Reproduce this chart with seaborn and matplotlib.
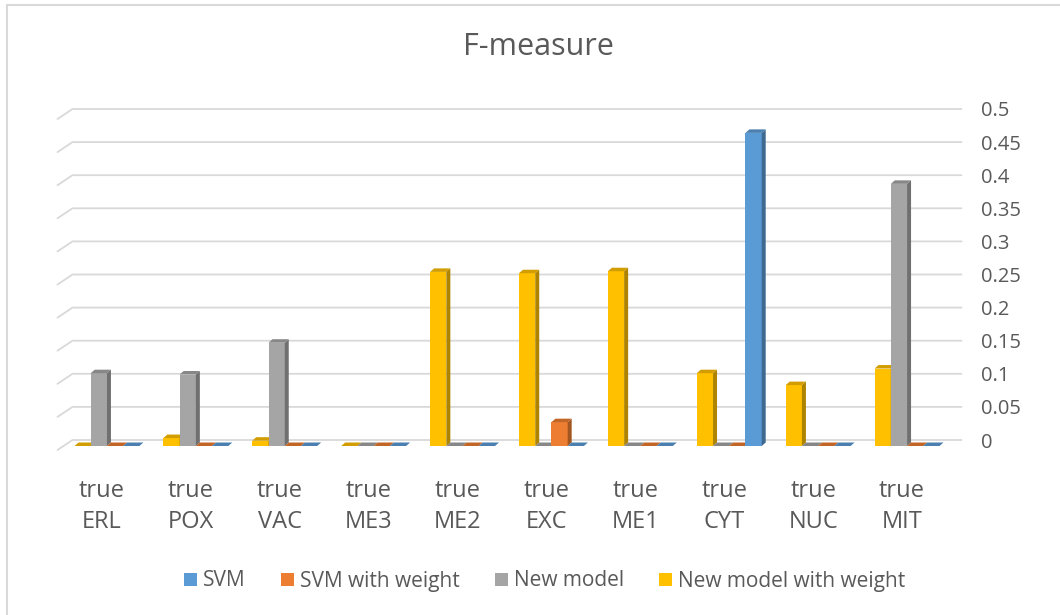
import numpy as np
import pandas as pd
import seaborn as sns
import matplotlib
matplotlib.use("Agg")
import matplotlib.pyplot as plt
from matplotlib.patches import Patch, Polygon, Rectangle
from matplotlib.lines import Line2D
from matplotlib.transforms import ScaledTranslation, IdentityTransform
from matplotlib.colors import to_rgb

# ---- data -------------------------------------------------------------
categories = ["true\nERL", "true\nPOX", "true\nVAC", "true\nME3", "true\nME2",
              "true\nEXC", "true\nME1", "true\nCYT", "true\nNUC", "true\nMIT"]
series_names = ["SVM", "SVM with weight", "New model", "New model with weight"]
svm = [0, 0, 0, 0, 0, 0, 0, 0.473, 0, 0]
svm_weight = [0, 0, 0, 0, 0, 0.036, 0, 0, 0, 0]
new_model = [0.110, 0.108, 0.156, 0, 0, 0, 0, 0, 0, 0.396]
new_model_weight = [0, 0.012, 0.008, 0, 0.263, 0.261, 0.264, 0.110, 0.092, 0.117]
y_ticks = [0, 0.05, 0.1, 0.15, 0.2, 0.25, 0.3, 0.35, 0.4, 0.45, 0.5]
y_tick_labels = ["0", "0.05", "0.1", "0.15", "0.2", "0.25", "0.3", "0.35", "0.4", "0.45", "0.5"]
title = "F-measure"

colors = {"SVM": "#5B9BD5", "SVM with weight": "#ED7D31",
          "New model": "#A5A5A5", "New model with weight": "#FFC000"}
# order of bars inside each cluster, left to right
cluster_order = ["New model with weight", "New model", "SVM with weight", "SVM"]

values = {"SVM": svm, "SVM with weight": svm_weight,
          "New model": new_model, "New model with weight": new_model_weight}
df = pd.DataFrame([
    {"category": c, "model": m, "value": values[m][i]}
    for m in series_names for i, c in enumerate(categories)
])

# ---- figure -----------------------------------------------------------
W, H, DPI = 1060, 615, 100
sns.set_theme(style="white")
plt.rcParams["font.family"] = ["Open Sans", "DejaVu Sans"]
text_color = "#595959"

fig = plt.figure(figsize=(W / DPI, H / DPI), dpi=DPI)
fig.patch.set_facecolor("white")

# plot-area (front plane) in pixels
ax_left, ax_right = 62.5, 951.5
ax_bottom_px, ax_top_px = 446, 115          # from the top of the image
ax = fig.add_axes([ax_left / W, 1 - ax_bottom_px / H,
                   (ax_right - ax_left) / W, (ax_bottom_px - ax_top_px) / H])
ax.set_facecolor("none")

sns.barplot(data=df, x="category", y="value", hue="model",
            hue_order=cluster_order, order=categories,
            palette=colors, width=0.73, gap=0, saturation=1,
            errorbar=None, legend=False, linewidth=0, ax=ax)

ax.set_xlim(-0.5, len(categories) - 0.5)
ax.set_ylim(0, 0.5)
for s in ax.spines.values():
    s.set_visible(False)
ax.set_xlabel("")
ax.set_ylabel("")
ax.grid(False)

# ---- 3-D look for the columns -----------------------------------------
px_per_x = (ax_right - ax_left) / (len(categories))
px_per_y = (ax_bottom_px - ax_top_px) / 0.5
dx = 4.0 / px_per_x
dy = 3.5 / px_per_y


def shade(c, f):
    r, g, b = to_rgb(c)
    return (r * f, g * f, b * f)


bars = [p for cont in ax.containers for p in cont]
bars.sort(key=lambda p: p.get_x())
for k, p in enumerate(bars):
    x0, w, h = p.get_x(), p.get_width(), p.get_height()
    fc = p.get_facecolor()
    z = 2 + k * 0.01
    p.set_zorder(z)
    side = Polygon([(x0 + w, 0), (x0 + w + dx, dy), (x0 + w + dx, h + dy), (x0 + w, h)],
                   closed=True, facecolor=shade(fc, 0.68), edgecolor="none", zorder=z + 0.002)
    top = Polygon([(x0, h), (x0 + dx, h + dy), (x0 + w + dx, h + dy), (x0 + w, h)],
                  closed=True, facecolor=shade(fc, 0.82), edgecolor="none", zorder=z + 0.004)
    ax.add_patch(side)
    ax.add_patch(top)

# ---- back-wall gridlines ----------------------------------------------
fig.canvas.draw()
wall_dx, wall_dy = 10, 6          # back wall sits up-right of the front plane
for v in y_ticks:
    _, yd = ax.transData.transform((0, v))
    yg = yd + wall_dy
    xl = ax.transAxes.transform((0, 0))[0] + wall_dx
    xr = ax.transAxes.transform((1, 0))[0] + wall_dx
    line = Line2D([xl - 15, xl, xr], [yg - 10, yg, yg], transform=IdentityTransform(),
                  color="#D9D9D9", linewidth=1.3, zorder=0)
    fig.add_artist(line)

# ---- ticks --------------------------------------------------------------
ax.set_yticks(y_ticks)
ax.set_yticklabels(y_tick_labels)
ax.yaxis.tick_right()
ax.tick_params(axis="y", length=0, pad=21, labelsize=14.5, labelcolor=text_color)
for lab in ax.get_yticklabels():
    lab.set_horizontalalignment("left")
    lab.set_transform(lab.get_transform() + ScaledTranslation(0, wall_dy / DPI, fig.dpi_scale_trans))

ax.set_xticks(range(len(categories)))
ax.set_xticklabels(categories, linespacing=1.35)
ax.tick_params(axis="x", length=0, pad=24, labelsize=17, labelcolor=text_color)
for lab in ax.get_xticklabels():
    lab.set_transform(lab.get_transform() + ScaledTranslation(-5 / DPI, 0, fig.dpi_scale_trans))

# ---- title & legend -----------------------------------------------------
fig.text(538 / W, 1 - 47 / H, title, ha="center", va="center",
         fontsize=22, color=text_color)

handles = [Patch(facecolor=colors[m], edgecolor="none", label=m) for m in series_names]
fig.legend(handles=handles, loc="center", bbox_to_anchor=(545 / W, 1 - 581 / H),
           ncol=4, frameon=False, fontsize=15, labelcolor=text_color,
           handlelength=0.6, handleheight=0.6, handletextpad=0.3, columnspacing=1.7)

# chart border
fig.add_artist(Rectangle((7 / W, -0.1), 1.2, 1 - 5 / H + 0.1, transform=fig.transFigure,
                         facecolor="none", edgecolor="#D9D9D9", linewidth=1.5))

fig.savefig("out.png", dpi=DPI, facecolor="white")
